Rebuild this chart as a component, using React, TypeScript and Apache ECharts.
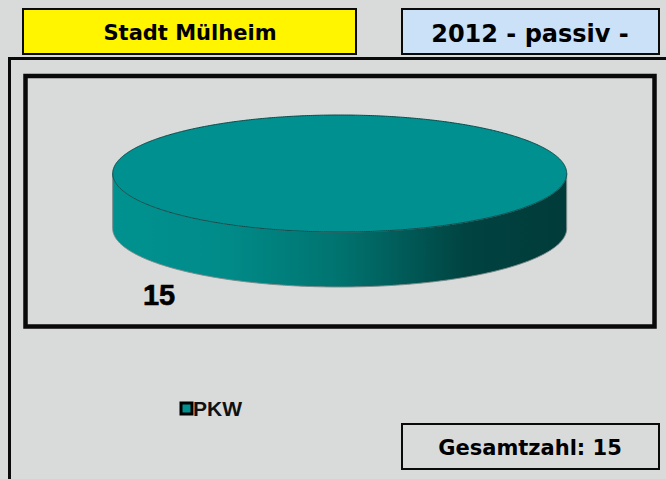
import React, { useEffect, useRef } from "react";
import * as echarts from "echarts";

const categories = ["PKW"];
const values = [15];
const sliceColors = ["#009090"];
const titleLeft = "Stadt Mülheim";
const titleRight = "2012 - passiv -";
const totalLabel = "Gesamtzahl: 15";

const CX = 339.7;
const CY = 173.5;
const RX = 227;
const RY = 58.5;
const DEPTH = 55;
const BG = "#d9dbdb";
const FONT = '"DejaVu Sans", sans-serif';

function arcPoints(a0: number, a1: number, dy: number) {
  const pts: number[][] = [];
  const n = Math.max(2, Math.ceil(Math.abs(a1 - a0) * 120));
  for (let i = 0; i <= n; i++) {
    const a = a0 + ((a1 - a0) * i) / n;
    pts.push([CX + RX * Math.cos(a), CY + dy + RY * Math.sin(a)]);
  }
  return pts;
}

function renderSlice(params: any, api: any) {
  const total = values.reduce((s, v) => s + v, 0);
  const before = values.slice(0, params.dataIndex).reduce((s, v) => s + v, 0);
  const a0 = (before / total) * Math.PI * 2;
  const a1 = ((before + api.value(0)) / total) * Math.PI * 2;
  const front0 = Math.max(a0, 0);
  const front1 = Math.min(a1, Math.PI);
  const sidePts = [...arcPoints(front0, front1, 0), ...arcPoints(front1, front0, DEPTH)];
  const side = new echarts.graphic.LinearGradient(0, 0, 1, 0, [
    { offset: 0, color: "#009290" },
    { offset: 0.25, color: "#008b89" },
    { offset: 0.5, color: "#00736f" },
    { offset: 0.78, color: "#004341" },
    { offset: 1, color: "#003b39" },
  ]);
  return {
    type: "group",
    children: [
      {
        type: "polygon",
        shape: { points: sidePts },
        style: { fill: side, stroke: "#7f8a8a", lineWidth: 1 },
      },
      {
        type: "polygon",
        shape: { points: arcPoints(a0, a1, 0) },
        style: { fill: sliceColors[params.dataIndex], stroke: "#0b4a4a", lineWidth: 1 },
      },
      {
        type: "text",
        x: 159,
        y: 295,
        style: {
          text: String(api.value(0)),
          font: 'bold 29px "Liberation Sans", sans-serif',
          fill: "#000",
          stroke: "#000",
          lineWidth: 0.6,
          align: "center",
          verticalAlign: "middle",
        },
      },
    ],
  };
}

function box(x: number, y: number, w: number, h: number, fill: string, lineWidth = 2) {
  return {
    type: "rect",
    shape: { x, y, width: w, height: h },
    style: { fill, stroke: "#0a0a0a", lineWidth },
    silent: true,
  };
}

function label(x: number, y: number, text: string, size: number) {
  return {
    type: "text",
    x,
    y,
    style: {
      text,
      font: `bold ${size}px ${FONT}`,
      fill: "#000",
      align: "center",
      verticalAlign: "middle",
    },
    silent: true,
  };
}

export default function App() {
  const ref = useRef<HTMLDivElement>(null);
  useEffect(() => {
    const chart = echarts.init(ref.current!, undefined, { renderer: "svg" });
    chart.setOption({
      animation: false,
      backgroundColor: BG,
      legend: {
        left: 179.5,
        top: 398,
        padding: 0,
        data: categories,
        icon: "rect",
        itemWidth: 11,
        itemHeight: 11,
        itemGap: 0,
        itemStyle: { borderColor: "#000", borderWidth: 3 },
        textStyle: {
          fontFamily: '"Liberation Sans", sans-serif',
          fontWeight: "bold",
          fontSize: 21,
          color: "#111",
          padding: [0, 0, 0, -4],
        },
      },
      graphic: [
        box(23, 9, 333, 45, "#fff500"),
        label(190, 33, titleLeft, 21),
        box(402, 9, 257, 45, "#cbe1f8"),
        label(530, 34, titleRight, 24),
        {
          type: "polyline",
          shape: { points: [[9.5, 479], [9.5, 58.5], [666, 58.5]] },
          style: { fill: "none", stroke: "#0a0a0a", lineWidth: 3 },
          silent: true,
        },
        box(25.5, 76, 629, 250.5, "none", 4.5),
        box(402, 424, 257, 45, BG),
        label(530, 448, totalLabel, 21),
      ],
      series: [
        {
          type: "custom",
          name: categories[0],
          coordinateSystem: "none",
          data: values.map((v) => [v]),
          itemStyle: { color: sliceColors[0] },
          renderItem: renderSlice,
          silent: true,
        },
      ],
    });
    return () => chart.dispose();
  }, []);
  return <div ref={ref} style={{ position: "fixed", left: 0, top: 0, width: 666, height: 479 }} />;
}
